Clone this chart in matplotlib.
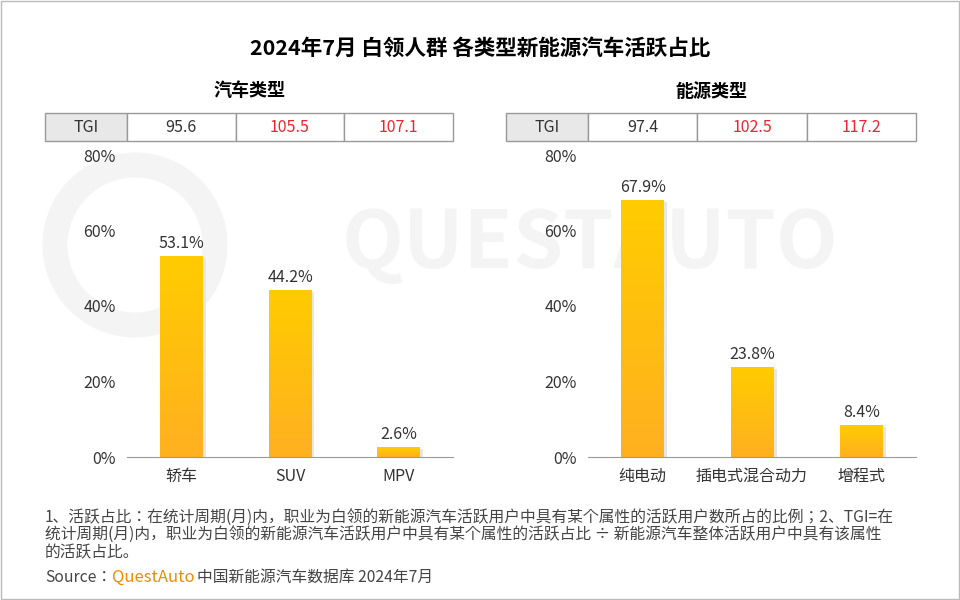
import matplotlib.pyplot as plt
import numpy as np
from matplotlib import font_manager
from matplotlib.colors import LinearSegmentedColormap
from matplotlib.patches import Rectangle, Circle

cjk = [f.name for f in font_manager.fontManager.ttflist if "CJK" in f.name]
plt.rcParams["font.family"] = "sans-serif"
plt.rcParams["font.sans-serif"] = ["Noto Sans CJK SC"] + sorted(set(cjk)) + ["DejaVu Sans"]

TITLE = "2024年7月 白领人群 各类型新能源汽车活跃占比"
car_types = ["轿车", "SUV", "MPV"]
car_share = [53.1, 44.2, 2.6]
car_tgi = ["95.6", "105.5", "107.1"]
energy_types = ["纯电动", "插电式混合动力", "增程式"]
energy_share = [67.9, 23.8, 8.4]
energy_tgi = ["97.4", "102.5", "117.2"]
yticks = [0, 20, 40, 60, 80]

W, H = 960, 600
fig = plt.figure(figsize=(9.6, 6), dpi=100)

# faint watermark behind everything
bg = fig.add_axes([0, 0, 1, 1], zorder=-5)
bg.set_xlim(0, W)
bg.set_ylim(H, 0)
bg.axis("off")
bg.add_patch(Circle((135, 245), 80, fill=False, edgecolor="#f4f4f4", lw=18))
bg.text(590, 245, "QUESTAUTO", ha="center", va="center", fontsize=58,
        color="#f4f4f4", weight="bold")
bg.add_patch(Rectangle((1, 1), W - 2, H - 2, fill=False, edgecolor="#bbbbbb", lw=1))

fig.text(0.5, 1 - 48 / H, TITLE, ha="center", va="center", fontsize=15.5, weight="bold")

grad = np.linspace(0, 1, 100).reshape(-1, 1)
cmap = LinearSegmentedColormap.from_list("y", ["#ffb020", "#ffcc00"])


def panel(x0, x1, subtitle, cats, vals, tgi):
    fig.text((x0 - 82 + x1) / 2 / W, 1 - 91 / H,
             subtitle, ha="center", va="center", fontsize=13, weight="bold")
    tab = fig.add_axes([(x0 - 82) / W, 1 - 141 / H, (x1 - x0 + 82) / W, 28 / H])
    tab.set_xlim(0, 1)
    tab.set_ylim(0, 1)
    tab.axis("off")
    total = x1 - x0 + 82
    edges = [0, 82 / total] + [(82 + (x1 - x0) * k / 3) / total for k in (1, 2, 3)]
    for i in range(4):
        tab.add_patch(Rectangle((edges[i], 0), edges[i + 1] - edges[i], 1,
                                facecolor="#e8e8e8" if i == 0 else "white",
                                edgecolor="#999999", lw=1, clip_on=False))
        txt = "TGI" if i == 0 else tgi[i - 1]
        col = "#333333" if i == 0 or float(txt) < 100 else "#e8262b"
        tab.text((edges[i] + edges[i + 1]) / 2, 0.5, txt, ha="center", va="center",
                 fontsize=11.5, color=col)

    ax = fig.add_axes([x0 / W, 1 - 457 / H, (x1 - x0) / W, 302 / H])
    x = np.arange(len(cats))
    w = 0.39
    for xi, v in zip(x, vals):
        ax.add_patch(Rectangle((xi - w / 2 + 0.03, 0), w, v - 0.4, facecolor="#e6e6e6",
                               edgecolor="none", zorder=1))
        ax.imshow(grad, cmap=cmap, aspect="auto", extent=(xi - w / 2, xi + w / 2, 0, v),
                  origin="lower", zorder=2)
        ax.text(xi, v + 1.2, f"{v}%", ha="center", va="bottom", fontsize=11.5, color="#333333")
    ax.set_xlim(-0.5, len(cats) - 0.5)
    ax.set_ylim(0, 80)
    ax.set_yticks(yticks)
    ax.set_yticklabels([f"{t}%" for t in yticks])
    ax.set_xticks(x)
    ax.set_xticklabels(cats)
    for s in ("top", "right", "left"):
        ax.spines[s].set_visible(False)
    ax.spines["bottom"].set_color("#999999")
    ax.tick_params(length=0, labelsize=11.5, colors="#333333", pad=8)
    ax.patch.set_alpha(0)


panel(127, 453, "汽车类型", car_types, car_share, car_tgi)
panel(588, 916, "能源类型", energy_types, energy_share, energy_tgi)

note = ("1、活跃占比：在统计周期(月)内，职业为白领的新能源汽车活跃用户中具有某个属性的活跃用户数所占的比例；2、TGI=在\n"
        "统计周期(月)内，职业为白领的新能源汽车活跃用户中具有某个属性的活跃占比 ÷ 新能源汽车整体活跃用户中具有该属性\n"
        "的活跃占比。")
fig.text(45 / W, 1 - 510 / H, note, ha="left", va="top", fontsize=11.3, color="#444444",
         linespacing=1.0)
y = 1 - 577 / H
fig.text(45 / W, y, "Source：", ha="left", va="center", fontsize=11.3, color="#444444")
fig.text(112 / W, y, "QuestAuto", ha="left", va="center", fontsize=12, color="#f08c00")
fig.text(197 / W, y, "中国新能源汽车数据库 2024年7月", ha="left", va="center", fontsize=11.3,
         color="#444444")

fig.savefig("out.png", dpi=100)
